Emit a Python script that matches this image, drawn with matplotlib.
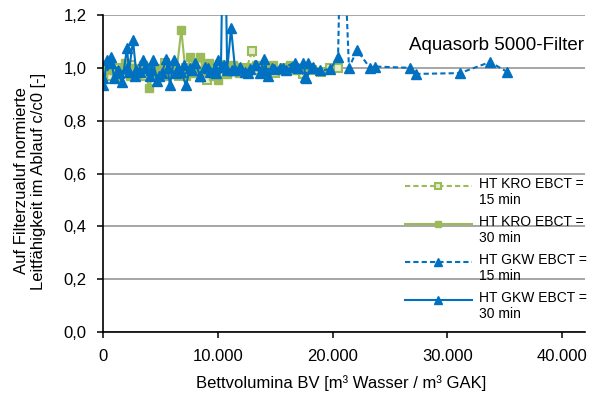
import matplotlib
matplotlib.use("Agg")
import numpy as np
import matplotlib.pyplot as plt
from matplotlib.legend_handler import HandlerLine2D

# bed volumes [BV] and normalised conductivity c/c0 for the four test runs
kro15_bv = [0, 600, 1200, 1800, 2400, 3000, 3600, 4200, 4800, 5400, 6000, 6600,
            7200, 7800, 8400, 9000, 9600, 10200, 10800, 11400, 12000, 12500,
            13000, 13500, 14200, 15000, 15800, 16600, 17400, 18200, 19000,
            19800, 20500]
kro15_c = [0.99, 0.97, 1.00, 0.98, 1.01, 0.99, 0.97, 1.00, 0.98, 1.02, 0.99,
           0.97, 1.00, 0.98, 1.01, 0.955, 0.99, 1.01, 0.98, 1.00, 0.99, 1.00,
           1.065, 0.99, 1.00, 0.98, 1.00, 0.99, 0.975, 0.99, 0.985, 1.00, 1.00]

kro30_bv = [0, 350, 750, 1100, 1500, 1900, 2300, 2700, 3100, 3500, 4000, 4400,
            4800, 5200, 5600, 6000, 6400, 6800, 7200, 7600, 8000, 8400, 8800,
            9200, 9600, 10000, 10400, 10800, 11300, 11800, 12300, 12800, 13300,
            13800, 14300, 14800, 15300, 15800, 16300, 16800, 17300]
kro30_c = [0.97, 1.01, 0.99, 0.96, 0.99, 1.02, 0.97, 1.00, 0.98, 1.01, 0.925,
           0.99, 1.00, 0.97, 1.00, 0.98, 0.99, 1.145, 0.97, 1.04, 0.98, 1.04,
           0.99, 1.02, 0.97, 0.955, 1.00, 0.975, 1.01, 0.98, 1.00, 0.99, 1.01,
           0.98, 1.00, 1.01, 0.99, 1.00, 1.01, 0.99, 1.00]

gkw15_bv = [0, 700, 1400, 2100, 2800, 3500, 4200, 4900, 5600, 6300, 7000, 7700,
            8400, 9100, 9800, 10500, 11200, 11900, 12600, 13300, 14000, 14700,
            15670, 16710, 17590, 17850, 18280, 18900, 19770, 20470, 20770,
            21420, 22120, 23250, 23690, 26740, 27260, 31100, 33720, 35200]
gkw15_c = [0.96, 1.02, 0.98, 1.00, 0.97, 1.03, 0.99, 0.97, 1.00, 0.98, 1.01,
           0.99, 0.97, 1.00, 0.98, 1.01, 0.99, 1.00, 0.98, 1.01, 0.99, 1.00,
           1.00, 1.02, 0.965, 1.02, 1.005, 0.99, 0.995, 1.04, 1.70, 1.00,
           1.067, 1.00, 1.005, 1.00, 0.977, 0.98, 1.022, 0.985]

gkw30_bv = [0, 330, 680, 940, 1280, 1630, 2070, 2240, 2590, 2850, 3200, 3640,
            4070, 4330, 4680, 5120, 5470, 5810, 6160, 6510, 6770, 7210, 7580,
            8010, 8430, 8870, 9310, 9740, 10000, 10260, 10530, 10800, 11140,
            11500, 11930, 12370, 12800, 13240, 13680, 14020, 14370, 14890,
            15410, 15940, 16460, 16980, 17420, 17680, 18200]
gkw30_c = [0.935, 1.03, 1.04, 0.96, 0.99, 0.945, 1.075, 0.985, 1.105, 0.99,
           0.985, 1.00, 0.97, 1.03, 0.95, 0.98, 1.035, 0.935, 1.03, 1.00, 0.985,
           0.935, 1.00, 1.02, 0.97, 1.005, 0.985, 1.00, 1.03, 1.005, 1.80,
           0.99, 1.15, 0.99, 1.005, 0.985, 0.995, 1.01, 0.98, 1.035, 0.97,
           0.995, 1.00, 0.99, 1.005, 1.00, 1.02, 0.96, 1.00]

labels = ["HT KRO EBCT =\n15 min", "HT KRO EBCT =\n30 min",
          "HT GKW EBCT =\n15 min", "HT GKW EBCT =\n30 min"]
x_ticks = [0, 10000, 20000, 30000, 40000]
y_ticks = [0.0, 0.2, 0.4, 0.6, 0.8, 1.0, 1.2]

GREEN = "#9BBB59"
BLUE = "#0070C0"
DASH = (0, (2.5, 1.5))

plt.rcParams["font.family"] = ["Liberation Sans", "DejaVu Sans"]


class FirstLineHandler(HandlerLine2D):
    """Put the legend sample on the first line of a two-line label."""
    def create_artists(self, legend, orig_handle, xdescent, ydescent,
                       width, height, fontsize, trans):
        arts = super().create_artists(legend, orig_handle, xdescent, ydescent,
                                      width, height, fontsize, trans)
        for a in arts:
            a.set_ydata(np.asarray(a.get_ydata()) + fontsize * 0.45)
        return arts


fig = plt.figure(figsize=(5.93, 3.99), dpi=100)
ax = fig.add_axes([0.1742, 0.1679, 0.8123, 0.7945])

l1, = ax.plot(kro15_bv, kro15_c, color=GREEN, lw=1.5, ls=DASH, marker="s",
              ms=6, mfc="#E4EDD0", mec=GREEN, mew=1.5, label=labels[0])
l2, = ax.plot(kro30_bv, kro30_c, color=GREEN, lw=1.5, marker="s", ms=6,
              mfc=GREEN, mec=GREEN, label=labels[1])
l3, = ax.plot(gkw15_bv, gkw15_c, color=BLUE, lw=1.5, ls=DASH, marker="^",
              ms=6.5, mfc=BLUE, mec=BLUE, label=labels[2])
l4, = ax.plot(gkw30_bv, gkw30_c, color=BLUE, lw=1.5, marker="^", ms=6.5,
              mfc=BLUE, mec=BLUE, label=labels[3])

ax.set_xlim(0, 42000)
ax.set_ylim(0, 1.2)
ax.set_xticks(x_ticks)
ax.set_xticklabels([f"{v:,}".replace(",", ".") for v in x_ticks])
ax.set_yticks(y_ticks)
ax.set_yticklabels([f"{v:.1f}".replace(".", ",") for v in y_ticks])
ax.tick_params(labelsize=12, length=4, width=1.1, direction="out", pad=8,
               color="black")

ax.grid(axis="y", color="#A6A6A6", lw=1.4)
ax.set_axisbelow(True)
for side in ("top", "right"):
    ax.spines[side].set_visible(False)
for side in ("left", "bottom"):
    ax.spines[side].set_linewidth(1.2)
    ax.spines[side].set_zorder(3)

ax.text(0.998, 0.905, "Aquasorb 5000-Filter", transform=ax.transAxes,
        ha="right", va="center", fontsize=13.5)

fig.text(30 / 593, 1 - 181 / 399,
         "Auf Filterzualuf normierte\nLeitfähigkeit im Ablauf c/c0 [-]",
         rotation=90, ha="center", va="center", multialignment="center",
         fontsize=12)
fig.text(341 / 593, 1 - 383 / 399, "Bettvolumina BV [m³ Wasser / m³ GAK]",
         ha="center", va="center", fontsize=12)

handler = FirstLineHandler(numpoints=1)
ax.legend(handles=[l1, l2, l3, l4], loc="upper left",
          bbox_to_anchor=(405 / 593, 1 - 177 / 399),
          bbox_transform=fig.transFigure, frameon=False, fontsize=10,
          borderpad=0, borderaxespad=0, handlelength=4.8, handletextpad=0.55,
          labelspacing=0.56, markerscale=0.8,
          handler_map={l: handler for l in (l1, l2, l3, l4)})

fig.savefig("out.png", dpi=100)
